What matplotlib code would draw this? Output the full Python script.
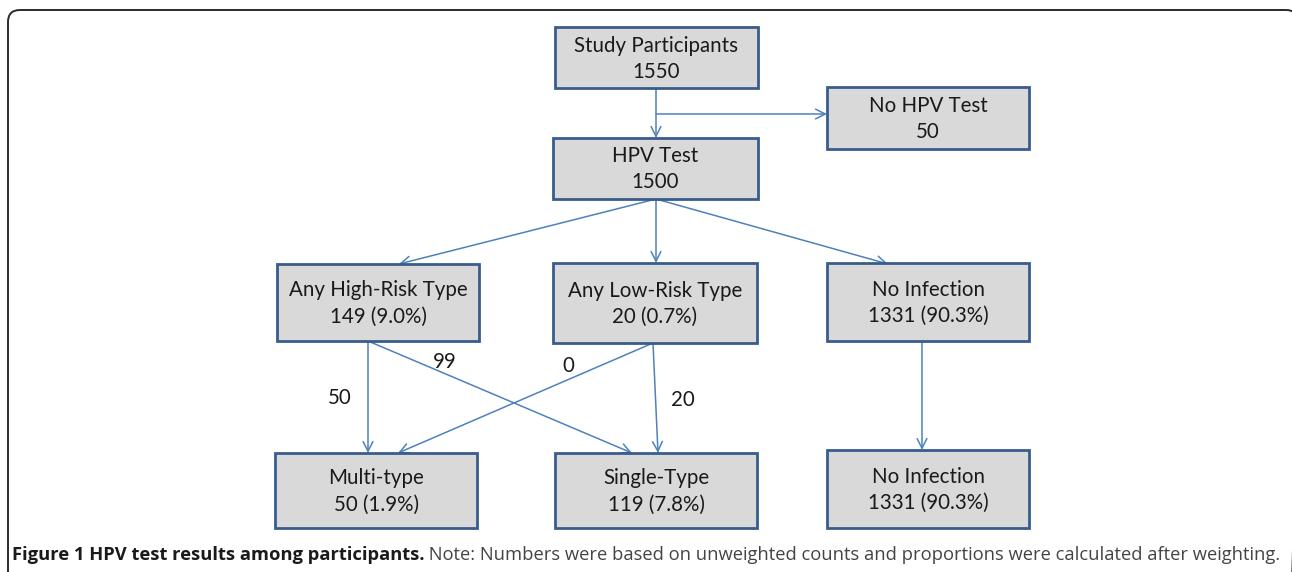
import matplotlib.pyplot as plt
from matplotlib.patches import FancyBboxPatch, FancyArrowPatch, Rectangle

# node data
labels = ["Study Participants", "No HPV Test", "HPV Test",
          "Any High-Risk Type", "Any Low-Risk Type", "No Infection",
          "Multi-type", "Single-Type", "No Infection"]
counts = [1550, 50, 1500, 149, 20, 1331, 50, 119, 1331]
percents = [None, None, None, 9.0, 0.7, 90.3, 1.9, 7.8, 90.3]

# split counts from risk groups to type groups
split_labels = ["50", "99", "0", "20"]

caption_bold = "Figure 1 HPV test results among participants."
caption_note = " Note: Numbers were based on unweighted counts and proportions were calculated after weighting."

# layout in pixels (x0, y0, x1, y1)
boxes = [
    (555, 27, 758, 88),
    (827, 87, 1029, 149),
    (553, 138, 758, 199),
    (277, 264, 479, 341),
    (553, 263, 757, 343),
    (827, 263, 1029, 341),
    (275, 453, 477, 528),
    (555, 453, 757, 528),
    (827, 450, 1029, 528),
]

arrows = [
    ((656, 88), (656, 138)),
    ((656, 114), (827, 114)),
    ((656, 199), (399, 264)),
    ((656, 199), (656, 263)),
    ((656, 199), (888, 264)),
    ((368, 341), (368, 453)),
    ((368, 341), (632, 453)),
    ((653, 343), (398, 453)),
    ((653, 343), (658, 453)),
    ((922, 341), (922, 450)),
]
split_pos = [(340, 398), (445, 362), (568, 366), (683, 400)]

line_col = '#4F81BD'
edge_col = '#385D8A'
fill_col = '#D9D9D9'
font = 'Lato'

fig = plt.figure(figsize=(12.92, 5.72), dpi=100)
ax = fig.add_axes([0, 0, 1, 1])
ax.set_xlim(0, 1292)
ax.set_ylim(572, 0)
ax.axis('off')

# outer frame, runs off the right and bottom edges
frame = FancyBboxPatch((8, 10), 1290, 620, boxstyle="round,pad=0,rounding_size=12",
                       fill=False, edgecolor='#2b2b2b', lw=1.4)
ax.add_patch(frame)

for (a, b) in arrows:
    ax.add_patch(FancyArrowPatch(a, b, arrowstyle='->,head_length=0.7,head_width=0.35',
                                 mutation_scale=10, color=line_col, lw=1.1,
                                 shrinkA=0, shrinkB=0))

for i, (x0, y0, x1, y1) in enumerate(boxes):
    ax.add_patch(Rectangle((x0, y0), x1 - x0, y1 - y0, facecolor=fill_col,
                           edgecolor=edge_col, lw=2))
    cx, cy = (x0 + x1) / 2, (y0 + y1) / 2
    if percents[i] is None:
        second = f"{counts[i]}"
    else:
        second = f"{counts[i]} ({percents[i]:.1f}%)"
    ax.text(cx, cy - 12, labels[i], ha='center', va='center', fontsize=14.8,
            family=font, color='#1a1a1a')
    ax.text(cx, cy + 14, second, ha='center', va='center', fontsize=14.8,
            family=font, color='#1a1a1a')

for lab, (x, y) in zip(split_labels, split_pos):
    ax.text(x, y, lab, ha='center', va='center', fontsize=14.8, family=font, color='#1a1a1a')

# caption
t1 = ax.text(12, 555, caption_bold, ha='left', va='center', fontsize=13.2,
             family='Open Sans', fontweight='bold', color='#1a1a1a')
fig.canvas.draw()
bb = t1.get_window_extent(fig.canvas.get_renderer())
x_end = ax.transData.inverted().transform((bb.x1, bb.y0))[0]
ax.text(x_end, 555, caption_note, ha='left', va='center', fontsize=13.2,
        family='Open Sans', color='#444444')

fig.savefig('out.png', dpi=100)
